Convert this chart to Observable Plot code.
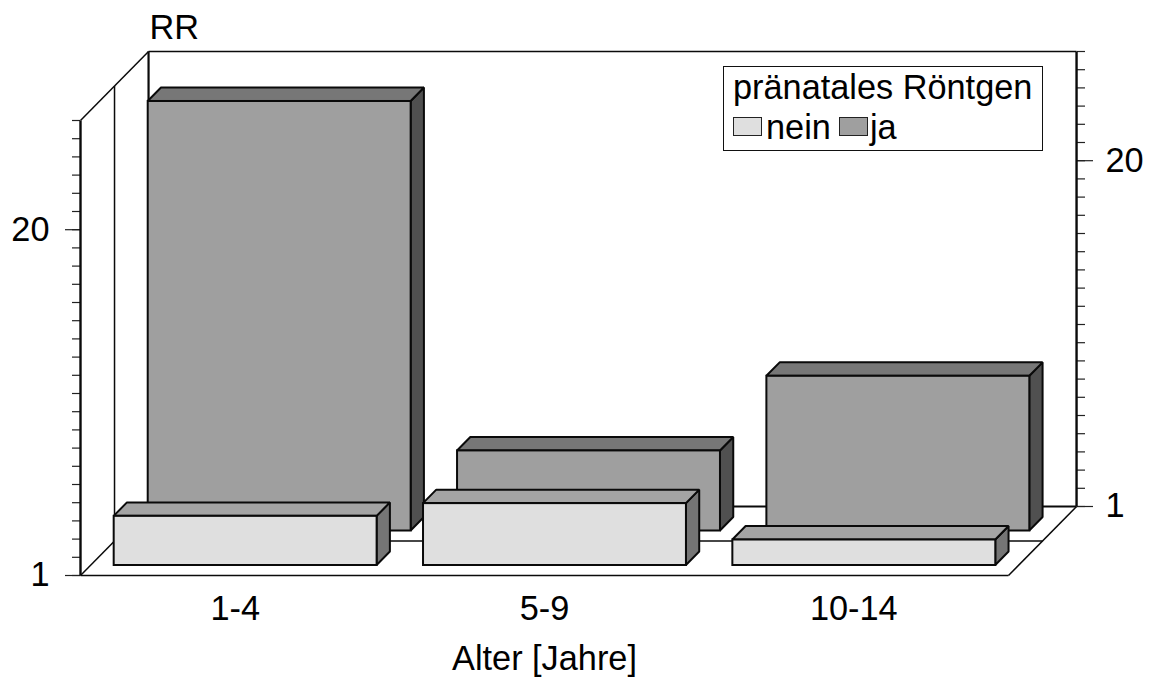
<!DOCTYPE html>
<html>
<head>
<meta charset="utf-8">
<script src="https://cdn.jsdelivr.net/npm/d3@7"></script>
<script src="https://cdn.jsdelivr.net/npm/@observablehq/plot@0.6"></script>
<style>
  html, body { margin: 0; padding: 0; background: #fff; }
  #chart { position: relative; width: 1151px; height: 678px; font-family: "Liberation Sans", Helvetica, Arial, sans-serif; color: #000; overflow: hidden; }
  #chart svg { display: block; background: #fff; }
  #legend { position: absolute; left: 723px; top: 66px; width: 318px; height: 83px; border: 1.5px solid #111; background: #fff; box-sizing: content-box; font-size: 34.3px; line-height: 1; }
  #legend .t { position: absolute; white-space: nowrap; }
  #legend .s { position: absolute; width: 27px; height: 17px; border: 1.5px solid #222; }
</style>
</head>
<body>
<div id="chart"></div>
<script>
const categories = ["1-4", "5-9", "10-14"];
const seriesNames = ["nein", "ja"];
const nein = [3.7, 4.4, 2.4];
const ja = [24.6, 5.4, 9.5];
const minorTicks = d3.range(1, 27);
const majorTicks = [1, 20];
const axisLabelX = "Alter [Jahre]";
const axisLabelY = "RR";
const legendTitle = "pränatales Röntgen";

const colors = {
  nein: {front: "#dfdfdf", top: "#a4a4a4", side: "#757575"},
  ja:   {front: "#9f9f9f", top: "#777777", side: "#505050"}
};

// oblique projection: one unit of depth shifts x and y by these data amounts
const depthX = 0.22, depthY = 3.79;
const px = (c, d) => c + d * depthX;
const py = (v, d) => v + d * depthY;
const gap = 0.077, barW = 0.85, rows = {nein: [0.145, 0.34], ja: [0.645, 0.84]};

const wire = [
  // c1, v1, d1, c2, v2, d2, width
  [0, 1, 1, 0, 26, 1, 2.2],
  [0, 26, 1, 3, 26, 1, 1.5],
  [3, 1, 1, 3, 26, 1, 2.4],
  [0, 1, 1, 3, 1, 1, 2],
  [0, 1, .5, 0, 26, .5, 1.5],
  [0, 1, .5, 3, 1, .5, 1.5],
  [0, 26, 0, 0, 26, 1, 1.5],
  [0, 1, 0, 0, 1, 1, 1.5],
  [3, 1, 0, 3, 1, 1, 1.5],
  [0, 1, 0, 3, 1, 0, 1.5],
  [0, 1, 0, 0, 26, 0, 2.4]
];

function barMarks(name, values) {
  const [d0, d1] = rows[name];
  const bars = values.map((v, i) => ({
    i, x0: px(i + gap, d0), x1: px(i + gap + barW, d0),
    xb0: px(i + gap, d1), xb1: px(i + gap + barW, d1),
    b: py(1, d0), t: py(v, d0), bb: py(1, d1), tb: py(v, d1)
  }));
  const common = {stroke: "#0a0a0a", strokeWidth: 2, strokeLinejoin: "miter"};
  const top = bars.flatMap(b => [
    {z: b.i, x1: b.x0, x2: b.x1, y: b.t},
    {z: b.i, x1: b.xb0, x2: b.xb1, y: b.tb}
  ]);
  const side = bars.flatMap(b => [
    {z: b.i, x: b.x1, y1: b.b, y2: b.t},
    {z: b.i, x: b.xb1, y1: b.bb, y2: b.tb}
  ]);
  return [
    Plot.area(side, {x1: "x", x2: "x", y1: "y1", y2: "y2", z: "z", fill: colors[name].side, ...common}),
    Plot.area(top, {x1: "x1", x2: "x2", y1: "y", y2: "y", z: "z", fill: colors[name].top, ...common}),
    Plot.rect(bars, {x1: "x0", x2: "x1", y1: "b", y2: "t", fill: colors[name].front, ...common})
  ];
}

const fontSize = 34.3;
const chart = Plot.plot({
  width: 1151,
  height: 678,
  marginLeft: 80,
  marginRight: 143,
  marginTop: 120,
  marginBottom: 103,
  style: {fontFamily: '"Liberation Sans", Helvetica, Arial, sans-serif', color: "#000", background: "#fff"},
  x: {domain: [0, 3], range: [80, 1008]},
  y: {domain: [1, 26], range: [575, 120]},
  marks: [
    Plot.axisY(minorTicks, {anchor: "left", tickSize: 8, tickFormat: () => "", label: null, stroke: "#222", strokeWidth: 1.2}),
    Plot.axisY(majorTicks, {anchor: "left", tickSize: 15, tickPadding: 16, tickFormat: d => d, label: null, fontSize, stroke: "#222", strokeWidth: 1.2}),
    Plot.axisY(minorTicks, {anchor: "right", dx: 68, dy: -69, tickSize: 8, tickFormat: () => "", label: null, stroke: "#222", strokeWidth: 1.2}),
    Plot.axisY(majorTicks, {anchor: "right", dx: 68, dy: -69, tickSize: 16, tickPadding: 13, tickFormat: d => d, label: null, fontSize, stroke: "#222", strokeWidth: 1.2}),
    Plot.link(wire, {
      x1: w => px(w[0], w[2]), y1: w => py(w[1], w[2]),
      x2: w => px(w[3], w[5]), y2: w => py(w[4], w[5]),
      stroke: "#0a0a0a", strokeWidth: w => w[6]
    }),
    ...barMarks("ja", ja),
    ...barMarks("nein", nein),
    Plot.axisX(categories.map((c, i) => i + 0.5), {
      anchor: "bottom", tickSize: 0, tickPadding: 20, tickFormat: v => categories[Math.floor(v)],
      fontSize, label: axisLabelX, labelAnchor: "center", labelArrow: "none", labelOffset: 94
    }),
    Plot.text([axisLabelY], {x: px(0, 1), y: py(26, 1), dx: 1, dy: -24, textAnchor: "start", fontSize, fill: "#000"})
  ]
});
const root = document.getElementById("chart");
root.appendChild(chart);

const legend = document.createElement("div");
legend.id = "legend";
const add = (cls, css, text) => {
  const el = document.createElement("div");
  el.className = cls;
  el.style.cssText = css;
  if (text) el.textContent = text;
  legend.appendChild(el);
};
add("t", "left:9px;top:3px", legendTitle);
add("s", `left:9px;top:50px;background:${colors.nein.front}`);
add("t", "left:42px;top:43px", seriesNames[0]);
add("s", `left:115px;top:50px;background:${colors.ja.front}`);
add("t", "left:146px;top:43px", seriesNames[1]);
root.appendChild(legend);
</script>
</body>
</html>
